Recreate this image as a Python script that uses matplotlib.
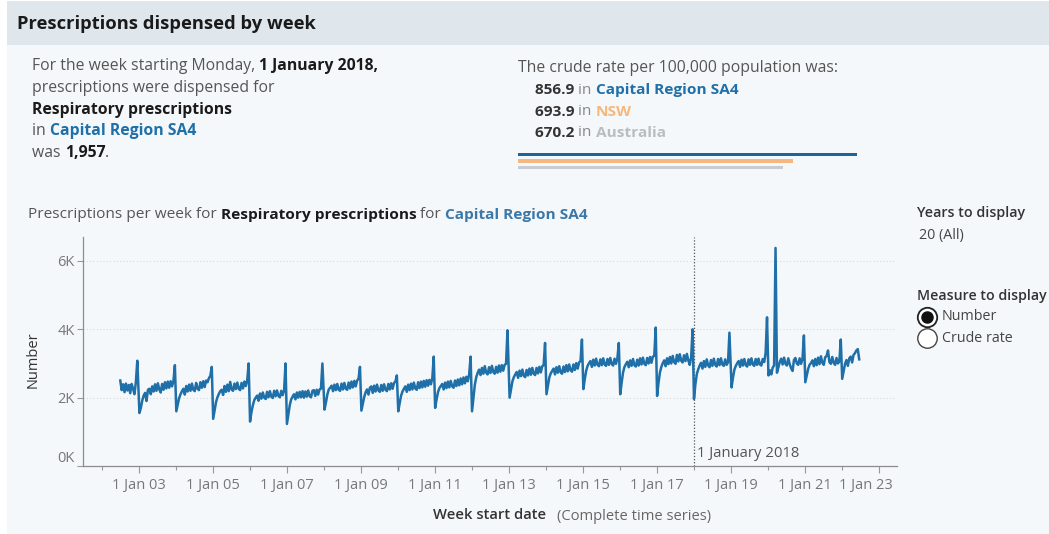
import matplotlib
matplotlib.use('Agg')
import matplotlib.pyplot as plt
import matplotlib.dates as mdates
import matplotlib.transforms as mtrans
from matplotlib.patches import Rectangle
import pandas as pd

# prescriptions per fortnight (each year starts on its first Monday;
# 2002 starts 1 Jul 2002)
y2002 = [2500, 2220, 2390, 2160, 2410, 2210, 2370, 2130, 2400, 2260, 2100, 2460, 3080]
y2003 = [1550, 1700, 1920, 2060, 2140, 1900, 2230, 2260, 2100, 2330, 2180, 2390, 2200, 2420, 2240, 2150, 2400, 2230, 2450, 2270, 2470, 2290, 2480, 2330, 2490, 2950]
y2004 = [1600, 1790, 1990, 2100, 2190, 2260, 2090, 2340, 2180, 2380, 2200, 2410, 2230, 2190, 2430, 2260, 2220, 2450, 2290, 2480, 2310, 2500, 2450, 2570, 2640, 2900]
y2005 = [1380, 1620, 1870, 2010, 2110, 2190, 2230, 2080, 2340, 2170, 2380, 2190, 2460, 2240, 2200, 2410, 2250, 2440, 2260, 2220, 2430, 2270, 2470, 2340, 2500, 3000]
y2006 = [1300, 1580, 1780, 1930, 2000, 2060, 1910, 2120, 1970, 2150, 2000, 1960, 2170, 2010, 2190, 2030, 1990, 2200, 2040, 2210, 2050, 2010, 2200, 2070, 2210, 3000]
y2007 = [1230, 1500, 1780, 1950, 2030, 2100, 1950, 2150, 2000, 2170, 2010, 2190, 2000, 2180, 2030, 2210, 2040, 2010, 2200, 2220, 2050, 2230, 2090, 2240, 2260, 3000]
y2008 = [1650, 1860, 2090, 2240, 2290, 2350, 2190, 2380, 2220, 2400, 2230, 2200, 2410, 2240, 2430, 2260, 2230, 2440, 2270, 2470, 2300, 2490, 2330, 2500, 2560, 2900]
y2009 = [1620, 1820, 2020, 2160, 2240, 2090, 2290, 2330, 2140, 2350, 2180, 2380, 2210, 2170, 2370, 2200, 2390, 2230, 2190, 2400, 2240, 2420, 2260, 2430, 2470, 2650]
y2010 = [1600, 1840, 2060, 2180, 2260, 2330, 2170, 2380, 2220, 2410, 2240, 2440, 2270, 2230, 2450, 2280, 2470, 2300, 2490, 2320, 2510, 2350, 2520, 2390, 2560, 3200]
y2011 = [1700, 1940, 2160, 2280, 2340, 2400, 2240, 2440, 2280, 2470, 2300, 2490, 2330, 2290, 2500, 2340, 2530, 2360, 2560, 2390, 2590, 2420, 2610, 2480, 2680, 3200]
y2012 = [1600, 1990, 2380, 2600, 2730, 2820, 2660, 2870, 2700, 2920, 2730, 2680, 2890, 2720, 2930, 2750, 2700, 2900, 2730, 2940, 2760, 2950, 2790, 2960, 2990, 3970]
y2013 = [2000, 2240, 2480, 2600, 2680, 2750, 2580, 2790, 2630, 2820, 2640, 2600, 2810, 2650, 2850, 2670, 2870, 2700, 2660, 2870, 2710, 2900, 2740, 2920, 2950, 3600]
y2014 = [2100, 2340, 2590, 2710, 2780, 2850, 2680, 2890, 2730, 2920, 2740, 2700, 2910, 2750, 2950, 2770, 2970, 2800, 2760, 2970, 2810, 3010, 2850, 3030, 3070, 3700]
y2015 = [2250, 2540, 2790, 2930, 3010, 3070, 2900, 3110, 2940, 3140, 2960, 2920, 3120, 2950, 3150, 2970, 2930, 3130, 2960, 3160, 2980, 2940, 3140, 2990, 3150, 3600]
y2016 = [2100, 2440, 2740, 2900, 2980, 3050, 2890, 3090, 2930, 3130, 2950, 2910, 3110, 2940, 3150, 2970, 3170, 2990, 2950, 3160, 3000, 3190, 3020, 3200, 3220, 4050]
y2017 = [2050, 2440, 2740, 2900, 3010, 3090, 2920, 3150, 2980, 3190, 3000, 3220, 3040, 2990, 3250, 3060, 3270, 3080, 3030, 3240, 3070, 3280, 3090, 2960, 3180, 4000]
y2018 = [1957, 2390, 2690, 2830, 2940, 3020, 2850, 3070, 2900, 3120, 2940, 2890, 3100, 2930, 3140, 2960, 2910, 3130, 2950, 3150, 2970, 2930, 3120, 2960, 3030, 3900]
y2019 = [2300, 2590, 2820, 2930, 3010, 3070, 2900, 3110, 2940, 3130, 2950, 2910, 3120, 2960, 3150, 2970, 2930, 3130, 2960, 3140, 2970, 2940, 3130, 3040, 3300, 4350]
y2020 = [2650, 2800, 2680, 2880, 2940, 6380, 2730, 2880, 3050, 3140, 2970, 3170, 2990, 2940, 3150, 2980, 2860, 2780, 3100, 3160, 3000, 2960, 3150, 2990, 3130, 3820]
y2021 = [2450, 2650, 2840, 2960, 3010, 3090, 2920, 3130, 2950, 3170, 2980, 3210, 3020, 2960, 3180, 3220, 3380, 3040, 2990, 3190, 3020, 2960, 3160, 3000, 3060, 3700]
y2022 = [2550, 2770, 2990, 3100, 2930, 3150, 3200, 3030, 3250, 3300, 3380, 3420, 3120]

years = list(range(2002, 2023))
yearly = [y2002, y2003, y2004, y2005, y2006, y2007, y2008, y2009, y2010, y2011,
          y2012, y2013, y2014, y2015, y2016, y2017, y2018, y2019, y2020, y2021, y2022]

highlight_date = '2018-01-01'
highlight_value = 1957

region_names = ['Capital Region SA4', 'NSW', 'Australia']
region_rates = [856.9, 693.9, 670.2]
region_text_colors = ['#1f6fa8', '#f5b87c', '#b9bdc2']
region_bar_colors = ['#1f6496', '#f6b880', '#c7ccd2']

ytick_vals = [0, 2000, 4000, 6000]
ytick_labels = ['0K', '2K', '4K', '6K']
major_years = list(range(2003, 2024, 2))
minor_years = list(range(2002, 2023, 2))

W, H = 1049, 534
plt.rcParams['font.family'] = ['Open Sans', 'DejaVu Sans']

# build the series
dates, values = [], []
for yr, vals in zip(years, yearly):
    if yr == 2002:
        first = pd.Timestamp('2002-07-01')
    else:
        first = pd.offsets.Week(weekday=0).rollforward(pd.Timestamp(f'{yr}-01-01'))
    dates += list(pd.date_range(first, periods=len(vals), freq='14D'))
    values += vals
series = pd.Series(values, index=pd.DatetimeIndex(dates))

fig = plt.figure(figsize=(W / 100, H / 100), dpi=100, facecolor='white')

# background / text layer in pixel coords
bg = fig.add_axes([0, 0, 1, 1])
bg.set_xlim(0, W)
bg.set_ylim(H, 0)
bg.axis('off')
bg.add_patch(Rectangle((7, 45), W - 7, H - 45, color='#f5f8fa', lw=0))
bg.add_patch(Rectangle((7, 1), W - 7, 44, color='#dfe7ed', lw=0))

renderer = fig.canvas.get_renderer()


def rich(x, y, parts, size=11.3):
    # draw text pieces one after another on a line
    for txt, color, weight in parts:
        t = bg.text(x, y, txt, color=color, fontweight=weight, fontsize=size,
                    va='center', ha='left')
        x += t.get_window_extent(renderer=renderer).width
    return x


DARK = '#333333'
BLACK = '#1a1a1a'
GREY = '#555555'
BLUE = region_text_colors[0]

bg.text(17, 24, 'Prescriptions dispensed by week', fontsize=13.2, fontweight='bold',
        color=BLACK, va='center')

when = pd.Timestamp(highlight_date)
rich(32, 66, [('For the week starting Monday, ', GREY, 'normal'),
              (when.strftime('%-d %B %Y') + ',', BLACK, 'bold')])
rich(32, 88, [('prescriptions were dispensed for', GREY, 'normal')])
rich(32, 110, [('Respiratory prescriptions', BLACK, 'bold')])
rich(32, 131, [('in ', GREY, 'normal'), (region_names[0], BLUE, 'bold')])
rich(32, 153, [('was ', GREY, 'normal'), (f'{highlight_value:,}', BLACK, 'bold'),
               ('.', GREY, 'normal')])

rich(518, 68, [('The crude rate per 100,000 population was:', GREY, 'normal')])
for i, (name, rate, col) in enumerate(zip(region_names, region_rates, region_text_colors)):
    rich(535, 90 + 21.5 * i, [(f'{rate:.1f} ', DARK, 'bold'), ('in ', '#888888', 'normal'),
                              (name, col, 'bold')], size=11.1)

# crude rate bars
bax = fig.add_axes([518 / W, 1 - 171 / H, (857 - 518) / W, 20 / H])
bax.barh(range(len(region_rates)), region_rates, color=region_bar_colors, height=0.5)
bax.set_xlim(0, max(region_rates))
bax.set_ylim(2.6, -0.6)
bax.axis('off')

rich(28, 215, [('Prescriptions per week for ', GREY, 'normal'),
               ('Respiratory prescriptions', BLACK, 'bold'),
               (' for ', GREY, 'normal'),
               (region_names[0], '#3b78a8', 'bold')], size=11.1)

# right-hand controls
bg.text(917, 213, 'Years to display', fontsize=10.3, color=DARK, va='center', fontweight='semibold')
bg.text(919, 235, '20 (All)', fontsize=10.3, color='#444444', va='center')
bg.text(917, 296, 'Measure to display', fontsize=10.2, color=DARK, va='center', fontweight='semibold')
bg.plot(927, 317, marker='o', ms=14, mfc='white', mec='#222222', mew=1.3)
bg.plot(927, 317, marker='o', ms=8, mfc='#111111', mec='#111111')
bg.plot(927, 338, marker='o', ms=14, mfc='white', mec='#444444', mew=1.0)
bg.text(942, 316, 'Number', fontsize=10.3, color='#444444', va='center')
bg.text(942, 338, 'Crude rate', fontsize=10.3, color='#444444', va='center')

# main chart
ax = fig.add_axes([83 / W, 1 - 466 / H, (897 - 83) / W, (466 - 237) / H])
ax.set_facecolor('none')
ax.plot(series.index, series.values, color='#1f6fa8', lw=1.8, zorder=3)
ax.set_ylim(0, 6700)
ax.set_xlim(pd.Timestamp('2001-06-28'), pd.Timestamp('2023-06-28'))

for v in ytick_vals[1:]:
    ax.axhline(v, color='#d6dadd', lw=0.8, ls=(0, (1, 2)), zorder=1)

ax.set_yticks(ytick_vals)
ax.set_yticklabels(ytick_labels)
ax.set_xticks([pd.Timestamp(f'{y}-01-01') for y in major_years])
ax.set_xticks([pd.Timestamp(f'{y}-01-01') for y in minor_years], minor=True)
ax.xaxis.set_major_formatter(mdates.DateFormatter('1 Jan %y'))
ax.tick_params(axis='both', which='major', colors='#999999', labelcolor='#777777',
               labelsize=10.5, length=5, width=0.8)
ax.tick_params(axis='x', which='minor', colors='#999999', length=3, width=0.8)
ax.tick_params(axis='x', pad=4)
ax.tick_params(axis='y', length=4, pad=2)

# Tableau nudges the edge labels inwards
ylabels = ax.get_yticklabels()
ylabels[0].set_transform(ylabels[0].get_transform() +
                         mtrans.ScaledTranslation(0, 9 / 100, fig.dpi_scale_trans))
xlabels = ax.get_xticklabels()
xlabels[-1].set_transform(xlabels[-1].get_transform() +
                          mtrans.ScaledTranslation(-13 / 100, 0, fig.dpi_scale_trans))

for s in ['top', 'right']:
    ax.spines[s].set_visible(False)
for s in ['left', 'bottom']:
    ax.spines[s].set_color('#8c8c8c')
    ax.spines[s].set_linewidth(0.9)

ax.axvline(when, color='#555555', lw=0.9, ls=(0, (1, 1.5)), zorder=2, clip_on=False)
ax.text(when + pd.Timedelta(days=25), 380, when.strftime('%-d %B %Y'), fontsize=10.7,
        color=GREY, va='center', ha='left')

bg.text(33, 360, 'Number', rotation=90, fontsize=10.5, color=DARK, va='center', ha='center')
bg.text(490, 515, 'Week start date', fontsize=10.6, fontweight='semibold', color=DARK,
        va='center', ha='center')
bg.text(557, 516, '(Complete time series)', fontsize=10.6, color='#666666',
        va='center', ha='left')

fig.savefig('out.png', dpi=100, facecolor=fig.get_facecolor())
